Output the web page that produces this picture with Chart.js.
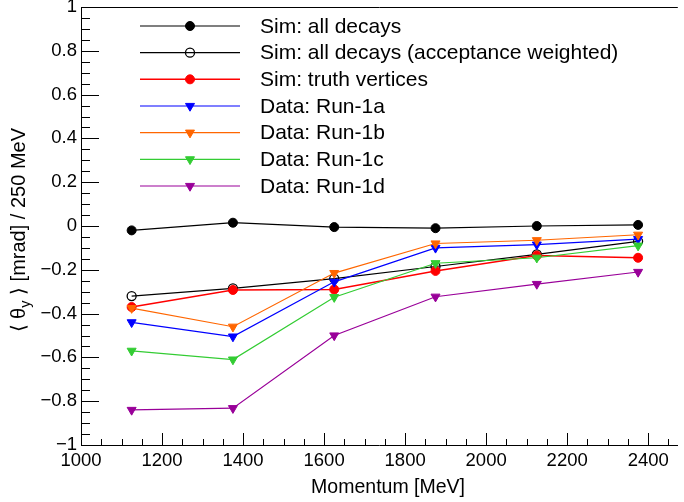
<!DOCTYPE html>
<html>
<head>
<meta charset="utf-8">
<script src="https://cdn.jsdelivr.net/npm/chart.js@4.4.1/dist/chart.umd.min.js"></script>
<style>
  html, body { margin: 0; padding: 0; background: #fff; overflow: hidden; }
  #wrap { width: 684px; height: 502px; position: relative; }
</style>
</head>
<body>
<div id="wrap"><canvas id="c" width="684" height="502"></canvas></div>
<script>
// Bin centres of the 250 MeV momentum bins
const momentum = [1125, 1375, 1625, 1875, 2125, 2375];

// Mean theta_y per bin [mrad]
const simAllDecays   = [-0.020, 0.015, -0.005, -0.010, 0.000, 0.005];
const simAccWeighted = [-0.320, -0.285, -0.240, -0.185, -0.130, -0.070];
const simTruthVtx    = [-0.370, -0.292, -0.290, -0.205, -0.135, -0.145];
const dataRun1a      = [-0.440, -0.505, -0.255, -0.100, -0.085, -0.060];
const dataRun1b      = [-0.375, -0.460, -0.215, -0.080, -0.065, -0.040];
const dataRun1c      = [-0.570, -0.610, -0.325, -0.170, -0.145, -0.090];
const dataRun1d      = [-0.840, -0.832, -0.500, -0.323, -0.265, -0.210];

const seriesLabels = [
  'Sim: all decays',
  'Sim: all decays (acceptance weighted)',
  'Sim: truth vertices',
  'Data: Run-1a',
  'Data: Run-1b',
  'Data: Run-1c',
  'Data: Run-1d'
];

// Axis ranges and tick spacing
const xMin = 1000, xMax = 2473, xStep = 200, xSub = 4, xLastLabel = 2400;
const yMin = -1, yMax = 1, yStep = 0.2, ySub = 4;
const xTitle = 'Momentum [MeV]';

const FONT = '"Liberation Sans", Arial, Helvetica, sans-serif';

function pts(ys) { return momentum.map((m, i) => ({ x: m, y: ys[i] })); }

function series(i, ys, color, style, opts) {
  return Object.assign({
    label: seriesLabels[i],
    data: pts(ys),
    borderColor: color,
    backgroundColor: color,
    pointBackgroundColor: color,
    pointBorderColor: color,
    pointStyle: style,
    pointRadius: 4.5,
    pointHoverRadius: 4.5,
    pointBorderWidth: 1,
    pointRotation: 0,
    borderWidth: 1.2,
    tension: 0,
    fill: false,
    order: seriesLabels.length - i
  }, opts || {});
}

const datasets = [
  series(0, simAllDecays, '#000000', 'circle'),
  series(1, simAccWeighted, '#000000', 'circle', { pointBackgroundColor: 'rgba(0,0,0,0)', pointBorderWidth: 1.3 }),
  series(2, simTruthVtx, '#ff0000', 'circle', { borderWidth: 1.5 }),
  series(3, dataRun1a, '#0000ff', 'triangle', { pointRotation: 180, pointRadius: 5.2 }),
  series(4, dataRun1b, '#ff6600', 'triangle', { pointRotation: 180, pointRadius: 5.2 }),
  series(5, dataRun1c, '#33cc33', 'triangle', { pointRotation: 180, pointRadius: 5.2 }),
  series(6, dataRun1d, '#990099', 'triangle', { pointRotation: 180, pointRadius: 5.2 })
];

// Inward major/minor ticks, top frame line and axis titles
const frameAndTitles = {
  id: 'frameAndTitles',
  afterDatasetsDraw(chart) {
    const ctx = chart.ctx, a = chart.chartArea;
    const xs = chart.scales.x, ys = chart.scales.y;
    ctx.save();
    ctx.strokeStyle = '#000';
    ctx.lineWidth = 1;
    ctx.beginPath();
    // x ticks
    const xMinor = xStep / xSub;
    for (let k = 0; ; k++) {
      const v = xMin + k * xMinor;
      if (v > xs.max + 1e-9) break;
      const px = Math.round(xs.getPixelForValue(v)) + 0.5;
      const len = (k % xSub === 0) ? 12 : 6;
      ctx.moveTo(px, a.bottom);
      ctx.lineTo(px, a.bottom - len);
    }
    // y ticks
    const yMinor = yStep / ySub;
    for (let k = 0; ; k++) {
      const v = yMin + k * yMinor;
      if (v > ys.max + 1e-9) break;
      const py = Math.round(ys.getPixelForValue(v)) + 0.5;
      const len = (k % ySub === 0) ? 18 : 9;
      ctx.moveTo(a.left, py);
      ctx.lineTo(a.left + len, py);
    }
    // top frame
    const ty = Math.round(a.top) + 0.5;
    ctx.moveTo(a.left, ty);
    ctx.lineTo(a.right, ty);
    ctx.stroke();

    ctx.fillStyle = '#000';
    // x title
    ctx.font = '19.5px ' + FONT;
    ctx.textAlign = 'right';
    ctx.textBaseline = 'alphabetic';
    ctx.fillText(xTitle, 465, 493);

    // y title with subscript, right-aligned towards the top
    ctx.translate(25, 128);
    ctx.rotate(-Math.PI / 2);
    const big = '20px ' + FONT, small = '14.5px ' + FONT;
    const parts = [
      { t: '\u27E8 \u03B8', f: big, dy: 0 },
      { t: 'y', f: small, dy: 5 },
      { t: ' \u27E9 [mrad] / 250 MeV', f: big, dy: 0 }
    ];
    let total = 0;
    parts.forEach(p => { ctx.font = p.f; p.w = ctx.measureText(p.t).width; total += p.w; });
    let cx = -total;
    ctx.textAlign = 'left';
    parts.forEach(p => { ctx.font = p.f; ctx.fillText(p.t, cx, p.dy); cx += p.w; });
    ctx.restore();
  }
};

// Legend: line with marker in the middle, label on the right
const sideLegend = {
  id: 'sideLegend',
  afterDraw(chart) {
    const ctx = chart.ctx;
    ctx.save();
    chart.data.datasets.forEach((ds, i) => {
      const y = 26 + i * 26.67;
      ctx.strokeStyle = ds.borderColor;
      ctx.lineWidth = ds.borderWidth;
      ctx.beginPath();
      ctx.moveTo(140, y);
      ctx.lineTo(240, y);
      ctx.stroke();
      ctx.fillStyle = ds.pointBackgroundColor;
      ctx.strokeStyle = ds.pointBorderColor;
      ctx.lineWidth = ds.pointBorderWidth;
      Chart.helpers.drawPoint(ctx, {
        pointStyle: ds.pointStyle,
        radius: ds.pointRadius,
        rotation: ds.pointRotation,
        borderWidth: ds.pointBorderWidth
      }, 190, y);
      ctx.fillStyle = '#000';
      ctx.font = '21px ' + FONT;
      ctx.textAlign = 'left';
      ctx.textBaseline = 'middle';
      ctx.fillText(ds.label, 260, y + 1);
    });
    ctx.restore();
  }
};

function fmtY(v) {
  const r = Math.round(v * 10) / 10;
  return (r < 0 ? '\u2212' : '') + String(Math.abs(r));
}

new Chart(document.getElementById('c'), {
  type: 'line',
  data: { datasets },
  options: {
    responsive: false,
    animation: false,
    devicePixelRatio: 1,
    layout: { padding: { top: 7, left: 0, right: 0, bottom: 0 } },
    plugins: { legend: { display: false }, tooltip: { enabled: false } },
    elements: { line: { tension: 0 } },
    scales: {
      x: {
        type: 'linear',
        min: xMin,
        max: xMax,
        grid: { display: false, drawTicks: false },
        border: { display: true, color: '#000', width: 1 },
        ticks: {
          stepSize: xStep,
          autoSkip: false,
          maxRotation: 0,
          minRotation: 0,
          padding: 5,
          color: '#000',
          font: { family: FONT, size: 18.5 },
          callback: v => String(v)
        },
        afterBuildTicks: s => {
          const t = [];
          for (let v = xMin; v <= xLastLabel; v += xStep) t.push({ value: v });
          s.ticks = t;
        },
        afterFit: s => { s.height = 57; s.paddingLeft = 0; s.paddingRight = 0; }
      },
      y: {
        type: 'linear',
        min: yMin,
        max: yMax,
        grid: { display: false, drawTicks: false },
        border: { display: true, color: '#000', width: 1 },
        ticks: {
          stepSize: yStep,
          padding: 4,
          color: '#000',
          font: { family: FONT, size: 18.5 },
          callback: v => fmtY(v)
        },
        afterFit: s => { s.width = 81; s.paddingTop = 0; s.paddingBottom = 0; }
      }
    }
  },
  plugins: [frameAndTitles, sideLegend]
});
</script>
</body>
</html>
